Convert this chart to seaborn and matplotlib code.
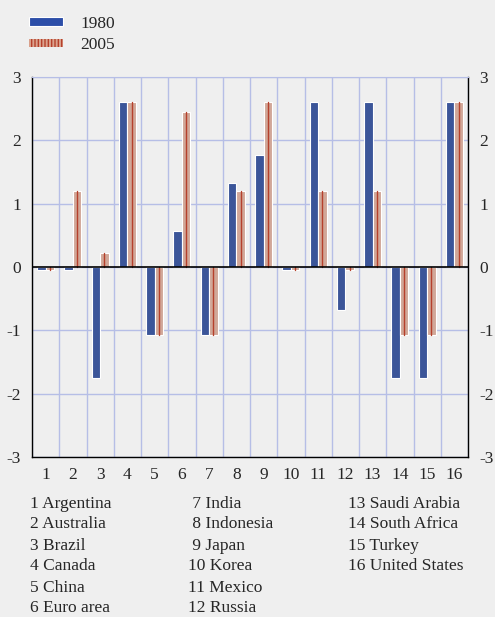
import pandas as pd
import matplotlib.pyplot as plt
import seaborn as sns
from matplotlib.patches import Patch
from matplotlib.ticker import MultipleLocator

countries = ['Argentina', 'Australia', 'Brazil', 'Canada', 'China', 'Euro area',
             'India', 'Indonesia', 'Japan', 'Korea', 'Mexico', 'Russia',
             'Saudi Arabia', 'South Africa', 'Turkey', 'United States']
codes = [str(i) for i in range(1, 17)]
v1980 = [-0.05, -0.05, -1.75, 2.6, -1.08, 0.57, -1.08, 1.32,
         1.77, -0.05, 2.6, -0.68, 2.6, -1.75, -1.75, 2.6]
v2005 = [-0.05, 1.2, 0.22, 2.6, -1.08, 2.45, -1.08, 1.2,
         2.6, -0.05, 1.2, -0.05, 1.2, -1.08, -1.08, 2.6]
years = ['1980', '2005']

blue = '#2C4EA8'
salmon = '#DBA38E'
red = '#B5402C'
grid_c = '#B6BEE6'
bg = '#EFEFEF'

df = pd.DataFrame({'code': codes * 2,
                   'value': v1980 + v2005,
                   'year': ['1980'] * 16 + ['2005'] * 16})

sns.set_style('white')
plt.rcParams['font.family'] = ['Liberation Serif', 'DejaVu Serif']
plt.rcParams['axes.unicode_minus'] = False

fig = plt.figure(figsize=(4.95, 6.17), dpi=100, facecolor=bg)
ax = fig.add_axes([32 / 495, 1 - 457 / 617, 436 / 495, 380 / 617])
ax.set_facecolor(bg)

sns.barplot(data=df, x='code', y='value', hue='year', order=codes,
            palette=[blue, salmon], width=0.62, gap=0,
            edgecolor='white', linewidth=0.8, legend=False, ax=ax, zorder=3)

# red stripe down the middle of each 2005 bar
for p in ax.containers[1]:
    cx = p.get_x() + p.get_width() / 2
    ax.plot([cx, cx], [0, p.get_height()], color=red, lw=1, zorder=4)

ax.set_xlim(-0.5, 15.5)
ax.set_ylim(-3, 3)
ax.yaxis.set_major_locator(MultipleLocator(1))
ax.set_xticks(range(16), codes)
ax.set_xticks([i - 0.5 for i in range(17)], minor=True)
ax.grid(True, which='minor', axis='x', color=grid_c, lw=1, zorder=0)
ax.grid(True, which='major', axis='y', color=grid_c, lw=1, zorder=0)
ax.axhline(0, color='black', lw=1.2, zorder=5)

ax.tick_params(axis='x', which='major', length=0, pad=7, labelsize=12.5)
ax.tick_params(axis='x', which='minor', length=4, width=1, color='black', direction='out')
ax.tick_params(axis='y', length=0, labelsize=12.5, left=True, right=True,
               labelleft=True, labelright=True, pad=8)
ax.set_xlabel('')
ax.set_ylabel('')
for s in ['left', 'right', 'bottom']:
    ax.spines[s].set_color('black')
    ax.spines[s].set_linewidth(1)
ax.spines['top'].set_color(grid_c)

handles = [Patch(facecolor=blue, edgecolor='white', linewidth=0.8),
           Patch(facecolor=salmon, edgecolor=red, hatch='|||||', linewidth=0)]
fig.legend(handles, years, loc='upper left', bbox_to_anchor=(22 / 495, 1 - 9 / 617),
           frameon=False, fontsize=12.5, handlelength=1.95, handleheight=0.4,
           handletextpad=1.0, labelspacing=0.3, borderaxespad=0)

# country key below the chart
baselines = [507.5, 528.5, 549.5, 570.5, 591.5, 612.5]
col_x = [30, 188, 348]
for i, name in enumerate(countries):
    c, r = divmod(i, 6)
    label = f'{i + 1:>2} {name}' if c == 1 else f'{i + 1} {name}'
    fig.text(col_x[c] / 495, 1 - baselines[r] / 617, label,
             ha='left', va='baseline', fontsize=12.5)

fig.savefig('out.png', dpi=100, facecolor=bg)
